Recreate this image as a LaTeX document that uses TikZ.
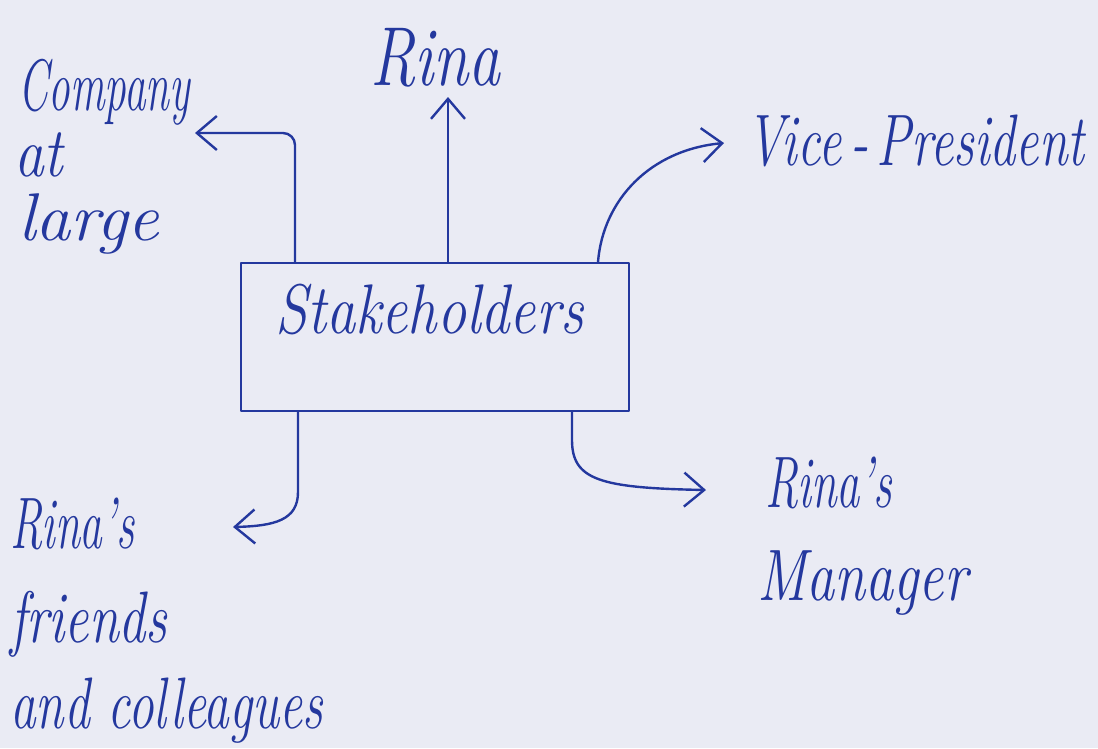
\documentclass[tikz,border=0pt]{standalone}
\usetikzlibrary{arrows.meta}
\definecolor{ink}{RGB}{36,56,158}
\definecolor{paper}{RGB}{234,235,244}
% handwritten-looking word: horizontal and vertical stretch, then the text
\newcommand{\hw}[3]{\scalebox{#1}[#2]{#3}}
\begin{document}
\begin{tikzpicture}[x=1pt,y=-1pt,
  hand/.style={font=\fontsize{54}{60}\selectfont\itshape, text=ink, inner sep=0pt, anchor=base west},
  pen/.style={draw=ink, line width=2.4pt, line cap=round, line join=round},
  tip/.style={-{Straight Barb[length=20pt,width=34pt,line width=2.4pt]}}]
% paper
\fill[paper] (0,0) rectangle (1098,748);
\useasboundingbox (0,0) rectangle (1098,748);

% central box
\node[pen, minimum width=388pt, minimum height=148pt, anchor=north west] (box) at (240,262) {};
\node[hand] (stake) at (275,333) {\hw{1.08}{1.3}{Stakeholders}};

% labels
\node[hand] (rina) at (370,85) {\hw{1.18}{1.55}{Rina}};
\node[hand] (comp1) at (18,110) {\hw{0.8}{1.35}{Company}};
\node[hand] (comp2) at (14,176) {\hw{1.1}{1.3}{at}};
\node[hand] (comp3) at (18,240) {\hw{1.3}{1.25}{large}};
\node[hand] (vp) at (746,165) {\hw{0.96}{1.35}{Vice\,-\,President}};
\node[hand] (mgr1) at (765,507) {\hw{0.86}{1.35}{Rina's}};
\node[hand] (mgr2) at (757,600) {\hw{1.04}{1.35}{Manager}};
\node[hand] (fr1) at (10,548) {\hw{0.84}{1.35}{Rina's}};
\node[hand] (fr2) at (10,642) {\hw{1.0}{1.35}{friends}};
\node[hand] (fr3) at (10,728) {\hw{0.95}{1.35}{and colleagues}};

% arrow ends
\coordinate (rinaTip) at (448,97);
\coordinate (compBend) at (295,133);
\coordinate (compTip) at (195,133);
\coordinate (vpTip) at (724,143);
\coordinate (frBend) at (298,492);
\coordinate (frTip) at (233,527);
\coordinate (mgrBend) at (572,440);
\coordinate (mgrTip) at (706,490);

% connectors
\draw[pen,tip] (box.north -| rinaTip) -- (rinaTip);
\draw[pen,tip,rounded corners=12pt] (box.north -| compBend) -- (compBend) -- (compTip);
\draw[pen,tip] ([xshift=358pt]box.north west) .. controls (603,200) and (650,150) .. (vpTip);
\draw[pen,tip] (box.south -| frBend) -- (frBend) .. controls (298,520) and (275,526) .. (frTip);
\draw[pen,tip] (box.south -| mgrBend) -- (mgrBend) .. controls (572,480) and (600,488) .. (mgrTip);
\end{tikzpicture}
\end{document}
